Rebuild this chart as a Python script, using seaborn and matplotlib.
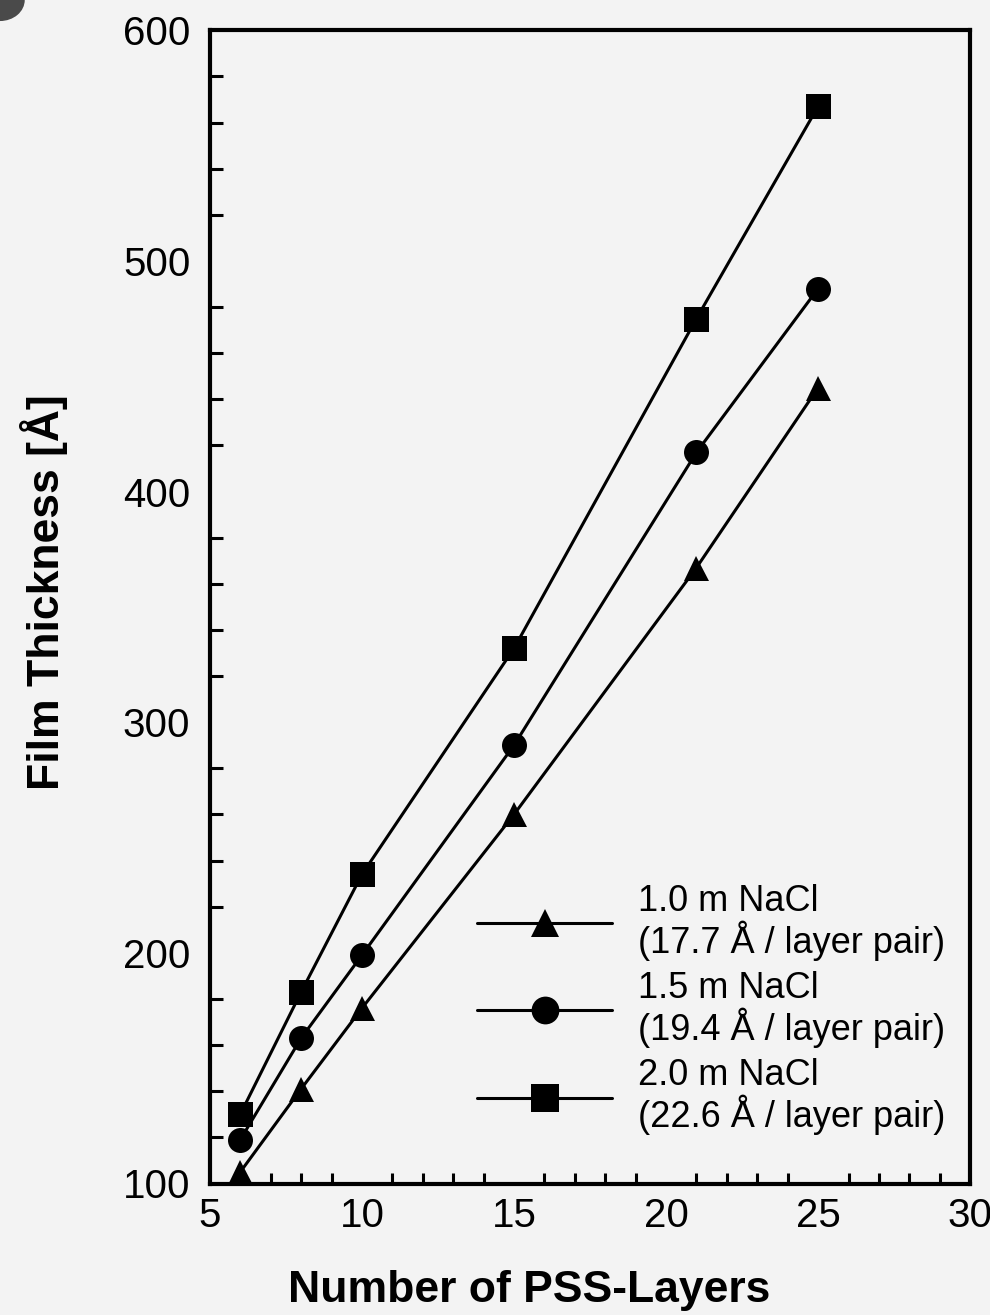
import numpy as np
import pandas as pd
import matplotlib
matplotlib.use('Agg')
import matplotlib.pyplot as plt
from matplotlib.patches import Ellipse
from matplotlib.ticker import MultipleLocator
import seaborn as sns

# data
layers = [6, 8, 10, 15, 21, 25]
nacl_10 = [105, 141, 176, 260, 367, 445]
nacl_15 = [119, 163, 199, 290, 417, 488]
nacl_20 = [130, 183, 234, 332, 475, 567]
series_names = ['1.0 m NaCl', '1.5 m NaCl', '2.0 m NaCl']
growth = ['17.7', '19.4', '22.6']

df = pd.DataFrame({
    'layers': layers * 3,
    'thickness': nacl_10 + nacl_15 + nacl_20,
    'series': sum([[s] * len(layers) for s in series_names], []),
})

sns.set_theme(style='white')
plt.rcParams['font.family'] = ['Liberation Sans', 'DejaVu Sans']
plt.rcParams.update({'text.color': 'black', 'axes.labelcolor': 'black',
                     'xtick.color': 'black', 'ytick.color': 'black'})
bg = '#f3f3f3'

fig = plt.figure(figsize=(9.9, 13.15), dpi=100, facecolor=bg)
ax = fig.add_axes([0.212, 0.100, 0.768, 0.877])
ax.set_facecolor(bg)

markers = {'1.0 m NaCl': '^', '1.5 m NaCl': 'o', '2.0 m NaCl': 's'}
sns.lineplot(data=df, x='layers', y='thickness', hue='series', style='series',
             markers=markers, dashes=False, palette=['black'] * 3,
             linewidth=2.2, markersize=18, markeredgewidth=0, ax=ax,
             legend=True, clip_on=False)

ax.set_xlim(5, 30)
ax.set_ylim(100, 600)
ax.xaxis.set_major_locator(MultipleLocator(5))
ax.xaxis.set_minor_locator(MultipleLocator(1))
ax.yaxis.set_major_locator(MultipleLocator(100))
ax.yaxis.set_minor_locator(MultipleLocator(20))
ax.tick_params(axis='both', which='both', direction='in', color='black',
               labelsize=29, top=False, right=False)
ax.tick_params(axis='x', which='major', length=16, width=2.2, pad=10)
ax.tick_params(axis='x', which='minor', length=8, width=2.2)
ax.tick_params(axis='y', which='major', length=10, width=2.2, pad=14)
ax.tick_params(axis='y', which='minor', length=9, width=2.2)
ax.tick_params(axis='both', which='minor', left=True, bottom=True)

for sp in ax.spines.values():
    sp.set_visible(True)
    sp.set_color('black')
    sp.set_linewidth(3.0)

ax.set_xlabel('Number of PSS-Layers', fontsize=32, fontweight='bold')
ax.set_ylabel('Film Thickness [Å]', fontsize=32, fontweight='bold')
ax.xaxis.set_label_coords(0.42, -0.075)
ax.yaxis.set_label_coords(-0.186, 0.513)

handles, labels = ax.get_legend_handles_labels()
for h in handles:
    h.set_markersize(20)
new_labels = [f'{n}\n({g} Å / layer pair)' for n, g in zip(series_names, growth)]
leg = ax.legend(handles, new_labels, loc='lower right', bbox_to_anchor=(1.0, 0.02),
                frameon=False, fontsize=26, handlelength=3.75, handletextpad=0.7,
                labelspacing=0.28, borderaxespad=0.3)
for t in leg.get_texts():
    t.set_linespacing(1.05)

# dark corner blob from the scanned page
fig.patches.append(Ellipse((0.0, 1.0), 0.05, 0.032, transform=fig.transFigure,
                           facecolor='#4a4a4a', edgecolor='none', zorder=0))

fig.savefig('out.png', dpi=100, facecolor=bg)
